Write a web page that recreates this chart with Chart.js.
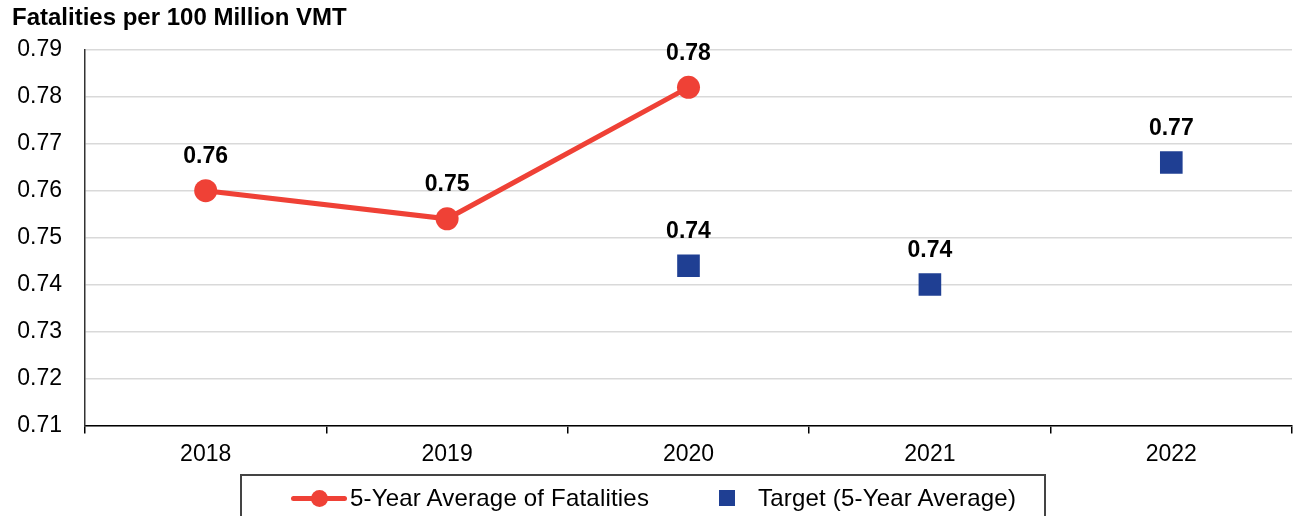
<!DOCTYPE html>
<html>
<head>
<meta charset="utf-8">
<script src="https://cdn.jsdelivr.net/npm/chart.js@4"></script>
<style>
  html, body { margin: 0; padding: 0; background: #fff; }
  #wrap { position: relative; width: 1293px; height: 516px; overflow: hidden; font-family: "Liberation Sans", Arial, sans-serif; }
  #legend { position: absolute; left: 240px; top: 474px; width: 806px; height: 60px; border: 2px solid #444; box-sizing: border-box; }
  #legend .item { position: absolute; top: 8px; font-size: 24px; letter-spacing: 0.2px; line-height: 28px; color: #000; white-space: nowrap; }
</style>
</head>
<body>
<div id="wrap">
  <canvas id="chart" width="1293" height="516"></canvas>
  <div id="legend"></div>
</div>
<script>
// datos del gráfico
const years = ['2018', '2019', '2020', '2021', '2022'];
const avgFatalities = [0.760, 0.754, 0.782, null, null];
const targetAvg = [null, null, 0.744, 0.740, 0.766];
const yTicks = [0.71, 0.72, 0.73, 0.74, 0.75, 0.76, 0.77, 0.78, 0.79];

const RED = '#EF4136';
const BLUE = '#1F3F93';
const FONT = '"Liberation Sans", Arial, sans-serif';

// etiquetas de valor encima de cada punto
const valueLabels = {
  id: 'valueLabels',
  afterDatasetsDraw(chart) {
    const ctx = chart.ctx;
    ctx.save();
    ctx.font = 'bold 23px ' + FONT;
    ctx.fillStyle = '#000';
    ctx.textAlign = 'center';
    ctx.textBaseline = 'middle';
    chart.data.datasets.forEach((ds, i) => {
      chart.getDatasetMeta(i).data.forEach((pt, j) => {
        const v = ds.data[j];
        if (v == null) return;
        ctx.fillText(v.toFixed(2), pt.x, pt.y - 34);
      });
    });
    ctx.restore();
  }
};

const chart = new Chart(document.getElementById('chart'), {
  type: 'line',
  data: {
    labels: years,
    datasets: [
      { label: '5-Year Average of Fatalities', data: avgFatalities, borderColor: RED, backgroundColor: RED, borderWidth: 5, pointRadius: 11.5, pointBackgroundColor: RED, pointBorderWidth: 0, spanGaps: false },
      { label: 'Target (5-Year Average)', data: targetAvg, showLine: false, pointStyle: 'rect', pointRadius: 16, pointBackgroundColor: BLUE, pointBorderColor: BLUE, pointBorderWidth: 0, borderColor: BLUE, backgroundColor: BLUE }
    ]
  },
  options: {
    responsive: false,
    animation: false,
    layout: { autoPadding: false, padding: { left: 12, right: 1, top: 4, bottom: 41 } },
    plugins: {
      legend: { display: false },
      tooltip: { enabled: false },
      title: {
        display: true,
        text: 'Fatalities per 100 Million VMT',
        align: 'start',
        color: '#000',
        font: { family: FONT, size: 24, weight: 'bold' },
        padding: { top: 0, bottom: 17 }
      }
    },
    scales: {
      x: {
        offset: true,
        afterFit(scale) { scale.paddingLeft = 0; scale.paddingRight = 0; },
        grid: { offset: true, drawOnChartArea: false, drawTicks: true, tickLength: 8, color: '#000', lineWidth: 1.5 },
        border: { display: true, color: '#000', width: 1.5 },
        ticks: { color: '#000', padding: 7, font: { family: FONT, size: 23 } }
      },
      y: {
        min: yTicks[0],
        max: yTicks[yTicks.length - 1],
        afterFit(scale) { scale.width = 73; },
        afterBuildTicks(scale) { scale.ticks = yTicks.map(v => ({ value: v })); },
        grid: { color: '#d9d9d9', lineWidth: 1.5, drawTicks: false },
        border: { display: true, color: '#333', width: 1.5 },
        ticks: { color: '#000', padding: 23, font: { family: FONT, size: 23 }, callback: v => v.toFixed(2) }
      }
    }
  },
  plugins: [valueLabels]
});

// leyenda HTML con recuadro, generada desde los datasets
const legend = document.getElementById('legend');
const ds = chart.data.datasets;
legend.innerHTML =
  '<div class="item" style="left:49px">' +
    '<span style="position:absolute;left:0;top:12px;width:56px;height:5px;background:' + ds[0].borderColor + ';border-radius:3px"></span>' +
    '<span style="position:absolute;left:20px;top:6px;width:17px;height:17px;background:' + ds[0].borderColor + ';border-radius:50%"></span>' +
    '<span style="margin-left:59px">' + ds[0].label + '</span></div>' +
  '<div class="item" style="left:477px">' +
    '<span style="position:absolute;left:0;top:6px;width:16px;height:16px;background:' + ds[1].pointBackgroundColor + '"></span>' +
    '<span style="margin-left:39px">' + ds[1].label + '</span></div>';
</script>
</body>
</html>
